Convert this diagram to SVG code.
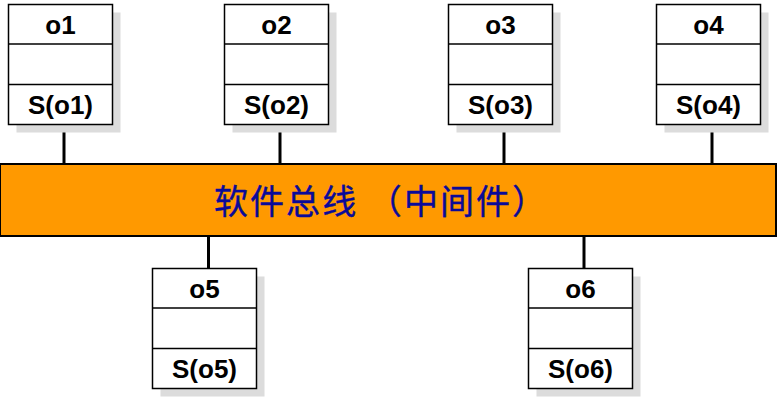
<svg xmlns="http://www.w3.org/2000/svg" width="777" height="408" viewBox="0 0 777 408">
<style>
.shadow{fill:#dcdcdc}
.box{fill:#ffffff;stroke:#000000;stroke-width:1.5}
.div{stroke:#000000;stroke-width:1.5}
.lbl{font-family:"Liberation Sans",Arial,sans-serif;font-weight:bold;font-size:26px;text-anchor:middle;fill:#000000}
.conn{stroke:#000000;stroke-width:3}
.bus{fill:#ff9900;stroke:#000000;stroke-width:2}
.bustxt{font-family:"Noto Sans CJK SC","Noto Sans",sans-serif;font-size:34px;fill:#0a0a99;stroke:#0a0a99;stroke-width:0.4}
</style>
<defs>
<g id="obj">
<rect class="shadow" x="8" y="8" width="104" height="120"/>
<rect class="box" x="0" y="0" width="104" height="120"/>
<line class="div" x1="0" y1="39.5" x2="104" y2="39.5"/>
<line class="div" x1="0" y1="80" x2="104" y2="80"/>
</g>
</defs>
<g id="connectors">
<line class="conn" x1="64" y1="124" x2="64" y2="164"/>
<line class="conn" x1="280" y1="124" x2="280" y2="164"/>
<line class="conn" x1="504" y1="124" x2="504" y2="164"/>
<line class="conn" x1="712" y1="124" x2="712" y2="164"/>
<line class="conn" x1="208.5" y1="235" x2="208.5" y2="269"/>
<line class="conn" x1="584" y1="235" x2="584" y2="269"/>
</g>
<g id="bus">
<rect class="bus" x="0" y="164" width="776" height="72"/>
<text class="bustxt" x="214" y="214" textLength="332">软件总线 （中间件）</text>
</g>
<g id="o1" transform="translate(8.5,4.5)">
<use href="#obj"/>
<text class="lbl" x="52" y="29">o1</text>
<text class="lbl" x="52" y="109">S(o1)</text>
</g>
<g id="o2" transform="translate(224.5,4.5)">
<use href="#obj"/>
<text class="lbl" x="52" y="29">o2</text>
<text class="lbl" x="52" y="109">S(o2)</text>
</g>
<g id="o3" transform="translate(448.5,4.5)">
<use href="#obj"/>
<text class="lbl" x="52" y="29">o3</text>
<text class="lbl" x="52" y="109">S(o3)</text>
</g>
<g id="o4" transform="translate(656.5,4.5)">
<use href="#obj"/>
<text class="lbl" x="52" y="29">o4</text>
<text class="lbl" x="52" y="109">S(o4)</text>
</g>
<g id="o5" transform="translate(152.5,268.5)">
<use href="#obj"/>
<text class="lbl" x="52" y="29">o5</text>
<text class="lbl" x="52" y="109">S(o5)</text>
</g>
<g id="o6" transform="translate(528.5,268.5)">
<use href="#obj"/>
<text class="lbl" x="52" y="29">o6</text>
<text class="lbl" x="52" y="109">S(o6)</text>
</g>
</svg>
